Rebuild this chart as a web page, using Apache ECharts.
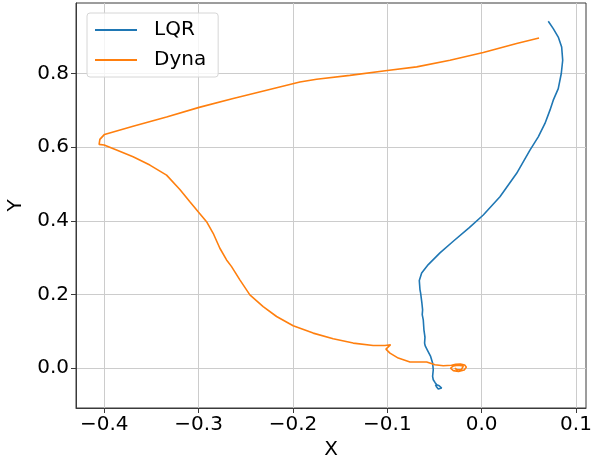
<!DOCTYPE html>
<html>
<head>
<meta charset="utf-8">
<script src="https://cdn.jsdelivr.net/npm/echarts@6/dist/echarts.min.js"></script>
<style>
html,body{margin:0;padding:0;background:#fff;}
#chart{width:592px;height:456px;}
</style>
</head>
<body>
<div id="chart"></div>
<script>
// LQR trajectory
var lqrX = [0.0706, 0.0759, 0.0812, 0.0848, 0.0859, 0.0844, 0.0812, 0.0759, 0.0724, 0.0671, 0.0600, 0.0512, 0.0371, 0.0194, 0.0017, -0.0131, -0.0301, -0.0442, -0.0566, -0.0636, -0.0661, -0.0654, -0.0647, -0.0635, -0.0626, -0.0630, -0.0619, -0.0612, -0.0601, -0.0605, -0.0598, -0.0577, -0.0541, -0.0520, -0.0513, -0.0520, -0.0513, -0.0495, -0.0506, -0.0477, -0.0450, -0.0424, -0.0460, -0.0477, -0.0490];
var lqrY = [0.9420, 0.9220, 0.8990, 0.8720, 0.8360, 0.8000, 0.7590, 0.7276, 0.7005, 0.6644, 0.6280, 0.5920, 0.5290, 0.4654, 0.4157, 0.3813, 0.3444, 0.3127, 0.2810, 0.2584, 0.2376, 0.2132, 0.2034, 0.1800, 0.1580, 0.1450, 0.1310, 0.1039, 0.0840, 0.0678, 0.0600, 0.0496, 0.0315, 0.0136, -0.0046, -0.0228, -0.0317, -0.0390, -0.0426, -0.0453, -0.0480, -0.0543, -0.0570, -0.0515, -0.0450];
// Dyna trajectory
var dynaX = [0.0608, 0.0371, 0.0017, -0.0336, -0.0689, -0.1001, -0.1397, -0.1750, -0.1927, -0.2280, -0.2634, -0.2995, -0.3340, -0.3695, -0.3998, -0.4047, -0.4055, -0.4002, -0.3870, -0.3695, -0.3517, -0.3340, -0.3199, -0.3093, -0.3005, -0.2916, -0.2846, -0.2775, -0.2704, -0.2651, -0.2563, -0.2457, -0.2316, -0.2174, -0.1998, -0.1786, -0.1574, -0.1362, -0.1150, -0.1025, -0.0965, -0.1015, -0.0972, -0.0884, -0.0760, -0.0583, -0.0495, -0.0407, -0.0320, -0.0275, -0.0225, -0.0180, -0.0162, -0.0185, -0.0245, -0.0300, -0.0330, -0.0300, -0.0250, -0.0195, -0.0180, -0.0215, -0.0260, -0.0285];
var dynaY = [0.8965, 0.8813, 0.8570, 0.8360, 0.8180, 0.8080, 0.7950, 0.7845, 0.7770, 0.7547, 0.7320, 0.7080, 0.6820, 0.6570, 0.6346, 0.6210, 0.6075, 0.6056, 0.5920, 0.5738, 0.5513, 0.5240, 0.4850, 0.4518, 0.4247, 0.3976, 0.3660, 0.3254, 0.2937, 0.2755, 0.2395, 0.1988, 0.1670, 0.1400, 0.1147, 0.0949, 0.0795, 0.0678, 0.0613, 0.0613, 0.0632, 0.0515, 0.0407, 0.0271, 0.0163, 0.0163, 0.0090, 0.0062, 0.0075, 0.0105, 0.0112, 0.0085, 0.0025, -0.0055, -0.0092, -0.0070, -0.0005, 0.0060, 0.0080, 0.0055, 0.0010, -0.0040, -0.0045, -0.0005];
var xTicks = [-0.4, -0.3, -0.2, -0.1, 0.0, 0.1];
var yTicks = [0.0, 0.2, 0.4, 0.6, 0.8];

function pairs(xs, ys) { return xs.map(function (x, i) { return [x, ys[i]]; }); }
function fmt(v) { var s = (Math.round(v * 10) / 10).toFixed(1); if (s === '-0.0') s = '0.0'; return s.replace('-', '\u2212'); }

var FONT = 'DejaVu Sans';
var chart = echarts.init(document.getElementById('chart'), null, { renderer: 'canvas' });
chart.setOption({
  animation: false,
  backgroundColor: '#ffffff',
  textStyle: { fontFamily: FONT },
  grid: { left: 76, right: 6, top: 3, bottom: 48, outerBoundsMode: 'none', containLabel: false, show: true, borderColor: '#3a3a3a', borderWidth: 1, backgroundColor: 'transparent' },
  legend: {
    left: 87, top: 13, orient: 'vertical',
    backgroundColor: 'rgba(255,255,255,0.8)', borderColor: '#d6d6d6', borderWidth: 1, borderRadius: 3,
    padding: [7, 12, 7, 8], itemGap: 10,
    icon: 'rect', itemWidth: 42, itemHeight: 2,
    textStyle: { fontFamily: FONT, fontSize: 20, color: '#000', lineHeight: 20, padding: [0, 0, 0, 12] },
    data: ['LQR', 'Dyna']
  },
  xAxis: {
    type: 'value', min: -0.43, max: 0.1106,
    name: 'X', nameLocation: 'middle', nameGap: 25,
    nameTextStyle: { fontFamily: FONT, fontSize: 20, color: '#000' },
    axisLine: { show: true, onZero: false, lineStyle: { color: '#3a3a3a', width: 1 } },
    axisTick: { show: true, inside: false, length: 5, customValues: xTicks, lineStyle: { color: '#3a3a3a' } },
    axisLabel: { customValues: xTicks, margin: 7, fontFamily: FONT, fontSize: 20, color: '#000', formatter: fmt },
    splitLine: { show: true, lineStyle: { color: '#cccccc', width: 1 } }
  },
  yAxis: {
    type: 'value', min: -0.1085, max: 0.9915,
    name: 'Y', nameLocation: 'middle', nameGap: 40, nameRotate: 90,
    nameTextStyle: { fontFamily: FONT, fontSize: 20, color: '#000' },
    axisLine: { show: true, onZero: false, lineStyle: { color: '#3a3a3a', width: 1 } },
    axisTick: { show: true, inside: false, length: 5, customValues: yTicks, lineStyle: { color: '#3a3a3a' } },
    axisLabel: { customValues: yTicks, margin: 7, fontFamily: FONT, fontSize: 20, color: '#000', formatter: fmt },
    splitLine: { show: true, lineStyle: { color: '#cccccc', width: 1 } }
  },
  series: [
    { name: 'LQR', type: 'line', data: pairs(lqrX, lqrY), showSymbol: false, symbol: 'none', smooth: false,
      lineStyle: { color: '#1f77b4', width: 1.6 }, itemStyle: { color: '#1f77b4' } },
    { name: 'Dyna', type: 'line', data: pairs(dynaX, dynaY), showSymbol: false, symbol: 'none', smooth: false,
      lineStyle: { color: '#ff7f0e', width: 1.6 }, itemStyle: { color: '#ff7f0e' } }
  ]
});
</script>
</body>
</html>
